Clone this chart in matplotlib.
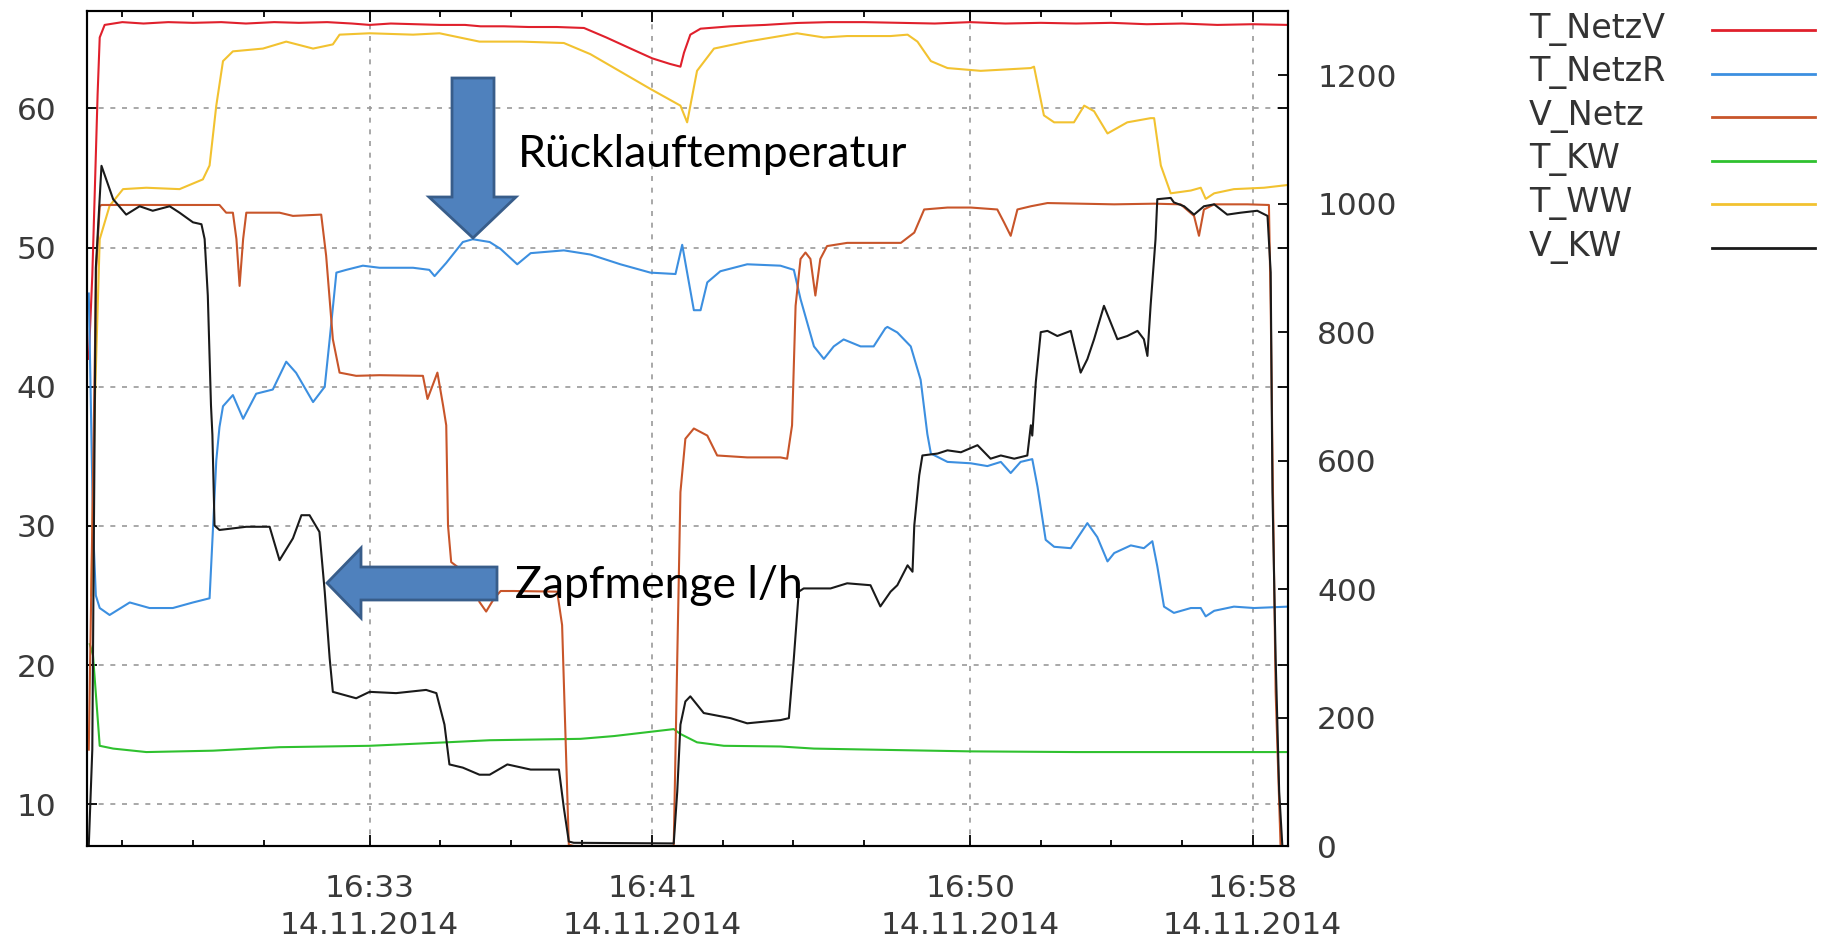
import matplotlib
matplotlib.use("Agg")
import matplotlib.pyplot as plt
from matplotlib.lines import Line2D
from matplotlib.patches import Polygon

# === Daten (Minuten nach 16:00) ===
t_netzv = [25.05, 25.15, 25.22, 25.30, 25.36, 25.50, 26.0, 26.6, 27.3, 28.0, 28.8, 29.5, 30.3, 31.0, 31.8,
           32.5, 33.0, 33.6, 34.3, 35.0, 35.7, 36.14, 36.8, 37.5, 38.3, 39.07, 39.7, 40.39, 41.0, 41.5,
           41.80, 41.90, 42.08, 42.37, 43.22, 44.2, 45.10, 46.0, 47.0, 48.0, 49.0, 50.0, 51.0, 52.0, 53.0,
           54.0, 55.0, 56.0, 57.0, 58.0, 59.0]
T_NetzV = [42.0, 48.0, 54.0, 61.0, 65.1, 66.0, 66.2, 66.1, 66.2, 66.15, 66.2, 66.1, 66.2, 66.15, 66.2,
           66.1, 66.0, 66.1, 66.05, 66.0, 66.0, 65.9, 65.9, 65.85, 65.85, 65.78, 65.1, 64.3, 63.6, 63.2,
           63.0, 64.0, 65.3, 65.73, 65.9, 66.0, 66.14, 66.2, 66.2, 66.15, 66.1, 66.2, 66.1, 66.15, 66.1,
           66.15, 66.05, 66.1, 66.0, 66.05, 66.0]

t_netzr = [25.05, 25.10, 25.17, 25.25, 25.36, 25.64, 26.21, 26.77, 27.43, 28.00, 28.47, 28.57, 28.66, 28.75,
           28.85, 29.13, 29.42, 29.79, 30.26, 30.64, 30.92, 31.40, 31.73, 31.87, 32.06, 32.34, 32.81, 33.28,
           34.23, 34.69, 34.84, 35.17, 35.64, 35.92, 36.40, 36.71, 37.18, 37.56, 38.50, 39.25, 40.10, 40.95,
           41.66, 41.85, 41.99, 42.18, 42.37, 42.56, 42.93, 43.69, 44.63, 45.01, 45.20, 45.58, 45.86, 46.14,
           46.42, 46.90, 47.27, 47.60, 47.66, 47.94, 48.32, 48.60, 48.79, 48.89, 49.36, 50.02, 50.49, 50.87,
           51.15, 51.43, 51.76, 51.91, 52.14, 52.38, 52.85, 53.32, 53.60, 53.89, 54.08, 54.55, 54.92, 55.16,
           55.30, 55.49, 55.77, 56.25, 56.53, 56.67, 56.91, 57.47, 58.04, 59.0]
T_NetzR = [46.7, 40.0, 30.0, 25.0, 24.1, 23.6, 24.5, 24.1, 24.1, 24.5, 24.8, 30.0, 34.7, 37.1,
           38.6, 39.4, 37.7, 39.5, 39.8, 41.8, 41.0, 38.9, 40.0, 43.4, 48.2, 48.4, 48.7, 48.55,
           48.55, 48.4, 47.95, 48.9, 50.4, 50.6, 50.4, 49.9, 48.8, 49.6, 49.8, 49.5, 48.8, 48.2,
           48.1, 50.2, 48.2, 45.5, 45.5, 47.5, 48.3, 48.8, 48.7, 48.4, 46.3, 42.9, 42.0, 42.9,
           43.4, 42.9, 42.9, 44.2, 44.3, 43.9, 42.9, 40.5, 36.6, 35.2, 34.6, 34.5, 34.3, 34.6,
           33.8, 34.6, 34.8, 32.8, 29.0, 28.5, 28.4, 30.2, 29.2, 27.45, 28.05, 28.6, 28.4, 28.9,
           27.1, 24.2, 23.75, 24.1, 24.1, 23.5, 23.9, 24.2, 24.1, 24.2]

t_kw = [25.08, 25.17, 25.36, 25.74, 26.68, 28.57, 30.45, 33.00, 35.17, 36.40, 38.97, 39.92, 41.61, 41.80,
        42.27, 43.03, 44.63, 45.58, 47.75, 50.0, 53.0, 56.0, 59.0]
T_KW = [21.5, 20.7, 14.2, 14.0, 13.75, 13.85, 14.1, 14.2, 14.45, 14.6, 14.7, 14.9, 15.4, 15.05,
        14.45, 14.2, 14.15, 14.0, 13.9, 13.8, 13.75, 13.75, 13.75]

t_ww = [25.12, 25.22, 25.36, 25.64, 26.02, 26.68, 27.62, 28.28, 28.47, 28.66, 28.85, 29.13, 29.98, 30.64,
        31.40, 31.96, 32.15, 33.00, 34.23, 34.98, 36.11, 37.3, 38.50, 39.25, 40.95, 41.80, 41.99, 42.27,
        42.75, 43.69, 45.10, 45.86, 46.52, 47.75, 48.23, 48.51, 48.89, 49.36, 50.30, 51.72, 51.81, 52.09,
        52.38, 52.94, 53.23, 53.51, 53.89, 54.45, 55.11, 55.21, 55.40, 55.68, 56.25, 56.53, 56.67, 56.91,
        57.47, 58.32, 59.0]
T_WW = [25.0, 38.6, 50.6, 53.0, 54.2, 54.3, 54.2, 54.9, 55.9, 60.2, 63.4, 64.1, 64.3, 64.8,
        64.3, 64.6, 65.3, 65.4, 65.3, 65.4, 64.8, 64.8, 64.7, 63.9, 61.4, 60.2, 59.0, 62.7,
        64.3, 64.8, 65.4, 65.1, 65.2, 65.2, 65.3, 64.8, 63.4, 62.9, 62.7, 62.9, 63.0, 59.5,
        59.0, 59.0, 60.2, 59.8, 58.2, 59.0, 59.3, 59.3, 55.9, 53.9, 54.1, 54.3, 53.5, 53.9,
        54.2, 54.3, 54.5]

t_vnetz = [25.05, 25.15, 25.26, 25.36, 25.41, 28.75, 28.94, 29.13, 29.23, 29.32, 29.42, 29.51, 30.45, 30.83,
           31.63, 31.77, 31.96, 32.15, 32.62, 33.28, 34.51, 34.64, 34.92, 35.08, 35.17, 35.22, 35.31, 35.55,
           35.9, 36.11, 36.30, 36.52, 36.71, 37.08, 38.31, 38.45, 38.64, 38.78, 41.61, 41.71, 41.80, 41.94,
           42.18, 42.56, 42.84, 43.69, 44.63, 44.82, 44.96, 45.06, 45.20, 45.34, 45.48, 45.62, 45.76, 45.95,
           46.52, 47.75, 48.04, 48.42, 48.70, 49.36, 50.02, 50.77, 50.96, 51.15, 51.34, 51.72, 52.19, 54.08,
           55.21, 55.96, 56.34, 56.48, 56.62, 56.91, 57.85, 58.46, 58.51, 58.56, 58.65, 58.79]
V_Netz = [150, 500, 900, 996, 998, 998, 986, 986, 945, 872, 945, 986, 986, 981,
          983, 919, 789, 737, 732, 733, 732, 696, 737, 686, 655, 499, 442, 432,
          425, 380, 365, 385, 397, 397, 396, 344, 2, 0, 0, 292, 551, 634,
          650, 639, 608, 605, 605, 603, 655, 841, 914, 924, 914, 857, 914, 934,
          939, 939, 939, 955, 991, 994, 994, 991, 971, 950, 991, 996, 1001, 999,
          1000, 999, 981, 950, 991, 999, 999, 998, 841, 608, 240, 0]

t_vkw = [25.05, 25.15, 25.25, 25.41, 25.74, 26.11, 26.49, 26.86, 27.34, 27.62, 28.00, 28.24, 28.33, 28.42,
         28.51, 28.55, 28.61, 28.75, 29.51, 30.17, 30.45, 30.83, 31.07, 31.30, 31.58, 31.73, 31.87, 31.96,
         32.62, 33.00, 33.75, 34.60, 34.89, 35.12, 35.26, 35.64, 36.11, 36.40, 36.90, 37.56, 38.36, 38.50,
         38.64, 38.78, 41.61, 41.71, 41.80, 41.94, 42.08, 42.46, 43.22, 43.69, 44.63, 44.87, 45.01, 45.15,
         45.29, 46.05, 46.52, 47.18, 47.46, 47.75, 47.94, 48.23, 48.37, 48.42, 48.56, 48.65, 49.08, 49.36,
         49.74, 50.21, 50.58, 50.87, 51.25, 51.62, 51.72, 51.76, 51.86, 52.00, 52.19, 52.47, 52.85, 53.13,
         53.32, 53.51, 53.79, 53.98, 54.17, 54.45, 54.74, 54.92, 55.02, 55.11, 55.25, 55.30, 55.68, 55.77,
         56.06, 56.34, 56.62, 56.91, 57.28, 57.66, 58.13, 58.42, 58.51, 58.56, 58.65, 58.75, 58.84]
V_KW = [0, 150, 900, 1059, 1007, 983, 996, 989, 996, 986, 971, 968, 945, 857,
        686, 640, 499, 492, 497, 497, 445, 479, 515, 515, 489, 396, 292, 240,
        230, 240, 238, 243, 238, 189, 127, 122, 111, 111, 127, 119, 119, 59,
        7, 5, 4, 85, 189, 225, 233, 207, 199, 191, 196, 199, 292, 396,
        401, 401, 409, 406, 373, 396, 406, 437, 427, 499, 577, 608, 611, 616,
        613, 624, 603, 608, 603, 608, 655, 639, 722, 800, 802, 794, 802, 737,
        758, 789, 841, 815, 789, 794, 802, 789, 763, 841, 945, 1007, 1009, 1002,
        996, 983, 996, 999, 983, 986, 989, 981, 893, 551, 292, 85, 0]

major_ticks = [33, 41, 50, 58]
major_labels = ["16:33", "16:41", "16:50", "16:58"]
date_label = "14.11.2014"
minor_ticks = [26, 28, 30, 35, 37, 39, 43, 45, 47, 52, 54, 56]
left_ticks = [10, 20, 30, 40, 50, 60]
right_ticks = [0, 200, 400, 600, 800, 1000, 1200]

legend_names = ["T_NetzV", "T_NetzR", "V_Netz", "T_KW", "T_WW", "V_KW"]
legend_colors = ["#e0202c", "#3c8fe0", "#c8552a", "#2fc12f", "#f2c230", "#1a1a1a"]
c_netzv, c_netzr, c_vnetz, c_kw, c_ww, c_vkw = legend_colors

# === Figur ===
W, H = 1825, 948
fig = plt.figure(figsize=(W / 100, H / 100), dpi=100)
ax = fig.add_axes([87 / W, 1 - 846 / H, (1288 - 87) / W, (846 - 11) / H])
ax2 = ax.twinx()

lw = 1.5
ax.plot(t_netzv, T_NetzV, color=c_netzv, lw=lw)
ax.plot(t_netzr, T_NetzR, color=c_netzr, lw=lw)
ax.plot(t_kw, T_KW, color=c_kw, lw=lw)
ax.plot(t_ww, T_WW, color=c_ww, lw=lw)
ax2.plot(t_vnetz, V_Netz, color=c_vnetz, lw=lw)
ax2.plot(t_vkw, V_KW, color=c_vkw, lw=lw)

ax.set_xlim(25, 59)
ax.set_ylim(7, 67)
ax2.set_ylim(0, 1300)

ax.set_xticks(major_ticks)
ax.set_xticklabels([f"{m}\n{date_label}" for m in major_labels], linespacing=1.35)
ax.set_xticks(minor_ticks, minor=True)
ax.set_yticks(left_ticks)
ax2.set_yticks(right_ticks)

ax.set_axisbelow(True)
ax.grid(True, which="major", linestyle=(0, (3, 4)), color="#9a9a9a", linewidth=1.2)

label_color = "#3a3a3a"
ax.tick_params(axis="both", which="both", direction="in", top=True, right=True,
               labelsize=22.5, labelcolor=label_color, width=1.3)
ax.tick_params(axis="x", which="major", length=8, pad=20)
ax.tick_params(axis="x", which="minor", length=4.5)
ax.tick_params(axis="y", length=7, pad=22)
ax2.tick_params(axis="y", direction="in", length=7, pad=21, width=1.3,
                labelsize=22.5, labelcolor=label_color)

for a in (ax, ax2):
    for s in a.spines.values():
        s.set_linewidth(1.5)
        s.set_color("black")

# === Legende ===
for i, (name, col) in enumerate(zip(legend_names, legend_colors)):
    y = 1 - (29 + 43.6 * i) / H
    fig.text(1529 / W, y, name, fontsize=24, color="#333333", va="center", ha="left")
    fig.add_artist(Line2D([1712 / W, 1815 / W], [y - 1 / H, y - 1 / H], color=col, lw=2,
                          transform=fig.transFigure))

# === Pfeile und Beschriftung ===
down_arrow = [(452, 78), (494, 78), (494, 197), (516, 197), (473, 238), (429, 197), (452, 197)]
left_arrow = [(327, 583), (361, 548), (361, 567), (497, 567), (497, 600), (361, 600), (361, 618)]
for shape in (down_arrow, left_arrow):
    pts = [(x / W, 1 - y / H) for x, y in shape]
    fig.add_artist(Polygon(pts, closed=True, facecolor="#4f81bd", edgecolor="#385d8a",
                           linewidth=2, transform=fig.transFigure))

fig.text(518 / W, 1 - 167 / H, "Rücklauftemperatur", fontsize=32, family=["Lato", "DejaVu Sans"],
         color="black", va="baseline", ha="left")
fig.text(515 / W, 1 - 598 / H, "Zapfmenge l/h", fontsize=32, family=["Lato", "DejaVu Sans"],
         color="black", va="baseline", ha="left")

fig.savefig("out.png", dpi=100)
